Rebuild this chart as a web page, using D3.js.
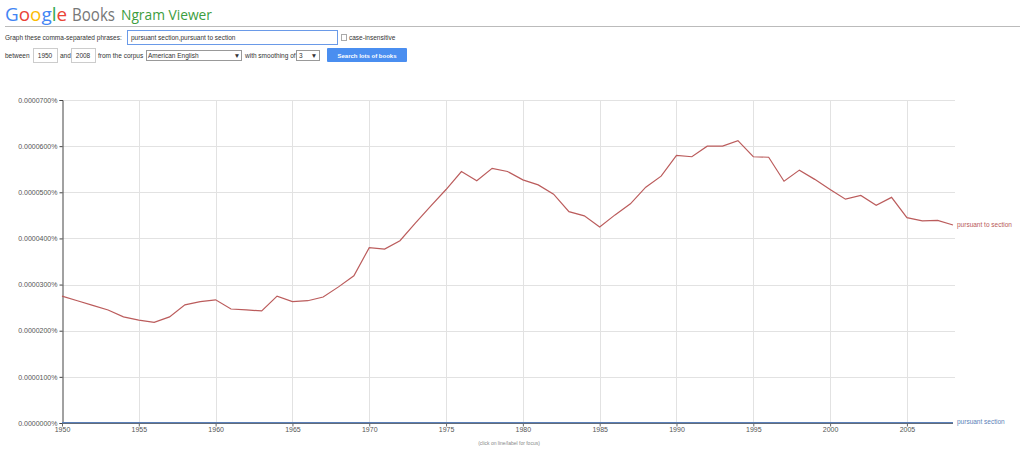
<!DOCTYPE html>
<html>
<head>
<meta charset="utf-8">
<script src="https://cdn.jsdelivr.net/npm/d3@7"></script>
<style>
  html, body { margin: 0; padding: 0; background: #fff; }
  svg { display: block; font-family: "Liberation Sans", Arial, sans-serif; }
</style>
</head>
<body>
<svg id="chart" width="1024" height="452"></svg>
<script>
// ---- data ----
const years = [1950,1951,1952,1953,1954,1955,1956,1957,1958,1959,
  1960,1961,1962,1963,1964,1965,1966,1967,1968,1969,
  1970,1971,1972,1973,1974,1975,1976,1977,1978,1979,
  1980,1981,1982,1983,1984,1985,1986,1987,1988,1989,
  1990,1991,1992,1993,1994,1995,1996,1997,1998,1999,
  2000,2001,2002,2003,2004,2005,2006,2007,2008];

// values in percent
const pursuantToSection = [
  0.0000275,0.0000265,0.0000255,0.0000245,0.0000230,0.0000223,0.0000218,0.0000230,0.0000256,0.0000263,
  0.0000267,0.0000247,0.0000245,0.0000243,0.0000275,0.0000263,0.0000265,0.0000273,0.0000295,0.0000319,
  0.0000380,0.0000377,0.0000395,0.0000433,0.0000470,0.0000506,0.0000545,0.0000525,0.0000552,0.0000545,
  0.0000527,0.0000516,0.0000496,0.0000458,0.0000449,0.0000425,0.0000451,0.0000475,0.0000511,0.0000535,
  0.0000580,0.0000577,0.0000600,0.0000600,0.0000612,0.0000577,0.0000576,0.0000524,0.0000548,0.0000528,
  0.0000506,0.0000485,0.0000493,0.0000472,0.0000489,0.0000445,0.0000438,0.0000439,0.0000429];

const pursuantSection = [
  0.0000001,0.0000001,0.0000001,0.0000001,0.0000001,0.0000001,0.0000001,0.0000001,0.0000001,0.0000001,
  0.0000001,0.0000001,0.0000001,0.0000001,0.0000001,0.0000001,0.0000001,0.0000001,0.0000001,0.0000001,
  0.0000001,0.0000001,0.0000001,0.0000001,0.0000001,0.0000001,0.0000001,0.0000001,0.0000001,0.0000001,
  0.0000001,0.0000001,0.0000001,0.0000001,0.0000001,0.0000001,0.0000001,0.0000001,0.0000001,0.0000001,
  0.0000001,0.0000001,0.0000001,0.0000001,0.0000001,0.0000001,0.0000001,0.0000001,0.0000001,0.0000001,
  0.0000001,0.0000001,0.0000001,0.0000001,0.0000001,0.0000001,0.0000001,0.0000001,0.0000001];

const seriesNames = ["pursuant to section", "pursuant section"];
const yTicks = [0, 0.00001, 0.00002, 0.00003, 0.00004, 0.00005, 0.00006, 0.00007];
const xTicks = [1950,1955,1960,1965,1970,1975,1980,1985,1990,1995,2000,2005];

// ---- drawing ----
const svg = d3.select("#chart");

// Header
const logo = svg.append("text").attr("x", 5).attr("y", 21)
  .attr("font-family", "'Open Sans', Roboto, sans-serif").attr("font-size", 19)
  .attr("textLength", 62).attr("lengthAdjust", "spacingAndGlyphs");
[["G","#4285f4"],["o","#ea4335"],["o","#fbbc05"],["g","#4285f4"],["l","#34a853"],["e","#ea4335"]]
  .forEach(([c, col]) => logo.append("tspan").attr("fill", col).text(c));
svg.append("text").attr("x", 72).attr("y", 21)
  .attr("font-family", "'Open Sans', Roboto, sans-serif").attr("font-size", 19)
  .attr("fill", "#777").attr("textLength", 43).attr("lengthAdjust", "spacingAndGlyphs").text("Books");
svg.append("text").attr("x", 121).attr("y", 20)
  .attr("font-family", "'Open Sans', Roboto, sans-serif").attr("font-size", 15)
  .attr("fill", "#3c9d40").attr("textLength", 91).attr("lengthAdjust", "spacingAndGlyphs")
  .text("Ngram Viewer");
svg.append("line").attr("x1", 5).attr("x2", 1020).attr("y1", 26.5).attr("y2", 26.5)
  .attr("stroke", "#bbb");

const formText = (x, y, t, anchor) => svg.append("text").attr("x", x).attr("y", y)
  .attr("font-size", 6.5).attr("fill", "#333").attr("text-anchor", anchor || "start").text(t);
const box = (x, y, w, h, stroke) => svg.append("rect").attr("x", x + 0.5).attr("y", y + 0.5)
  .attr("width", w).attr("height", h).attr("fill", "#fff").attr("stroke", stroke || "#bbb");

formText(5, 39.5, "Graph these comma-separated phrases:");
box(127, 30, 210, 14, "#6a9ae8");
formText(131, 39.5, "pursuant section,pursuant to section");
box(341, 34, 5, 6, "#aaa");
formText(349, 39.5, "case-insensitive");

formText(5, 58, "between");
box(33, 48, 24, 14, "#ccc");
formText(45, 58, "1950", "middle");
formText(60, 58, "and");
box(71, 48, 24, 14, "#ccc");
formText(83, 58, "2008", "middle");
formText(98, 58, "from the corpus");
box(146, 50, 95, 10, "#999");
formText(148, 58, "American English");
formText(237, 58, "▼", "middle");
formText(245, 58, "with smoothing of");
box(296, 50, 23, 10, "#999");
formText(299, 58, "3");
formText(314, 58, "▼", "middle");
svg.append("rect").attr("x", 327).attr("y", 48).attr("width", 80).attr("height", 14)
  .attr("fill", "#4a8ef0").attr("rx", 1);
svg.append("text").attr("x", 367).attr("y", 57.5).attr("text-anchor", "middle")
  .attr("font-size", 6).attr("font-weight", "bold").attr("fill", "#fff").text("Search lots of books");

// Chart
const x = d3.scaleLinear().domain([1950, 2008]).range([62, 953]);
const y = d3.scaleLinear().domain([0, 0.00007]).range([423, 100]);
const gridRight = 955;

const g = svg.append("g");
// horizontal grid
g.selectAll("line.hg").data(yTicks.slice(1)).join("line")
  .attr("x1", x(1950)).attr("x2", gridRight)
  .attr("y1", d => Math.round(y(d)) + 0.5).attr("y2", d => Math.round(y(d)) + 0.5)
  .attr("stroke", "#e2e2e2");
// vertical grid
g.selectAll("line.vg").data(xTicks.slice(1)).join("line")
  .attr("x1", d => Math.round(x(d)) + 0.5).attr("x2", d => Math.round(x(d)) + 0.5)
  .attr("y1", y(0.00007)).attr("y2", y(0))
  .attr("stroke", "#e2e2e2");

// y axis
const yAxis = d3.axisLeft(y).tickValues(yTicks).tickSize(3).tickPadding(2)
  .tickFormat(d => d3.format(".7f")(d) + "%");
const ya = svg.append("g").attr("transform", `translate(${x(1950) + 0.5},0)`).call(yAxis);
ya.select(".domain").attr("stroke", "#444");
ya.selectAll(".tick line").attr("stroke", "#444");
ya.selectAll(".tick text").attr("font-size", 7).attr("fill", "#555")
  .attr("font-family", "'Liberation Sans', Arial, sans-serif");

// x axis
const xAxis = d3.axisBottom(x).tickValues(xTicks).tickSize(3).tickPadding(1)
  .tickFormat(d3.format("d"));
const xa = svg.append("g").attr("transform", `translate(0,${y(0) + 0.5})`).call(xAxis);
xa.select(".domain").attr("stroke", "#666").attr("d", `M${x(1950)},0H${x(2008)}`);
xa.selectAll(".tick line").attr("stroke", "#666");
xa.selectAll(".tick text").attr("font-size", 7).attr("fill", "#555")
  .attr("font-family", "'Liberation Sans', Arial, sans-serif");

// lines
const line = d3.line().x((d, i) => x(years[i])).y(d => y(d));
svg.append("path").datum(pursuantSection).attr("d", line)
  .attr("fill", "none").attr("stroke", "#5a7fb8").attr("stroke-width", 1.3);
svg.append("path").datum(pursuantToSection).attr("d", line)
  .attr("fill", "none").attr("stroke", "#bb5c5c").attr("stroke-width", 1.2);

// series labels
svg.append("text").attr("x", x(2008) + 4).attr("y", y(pursuantToSection[pursuantToSection.length - 1]) + 2)
  .attr("font-size", 6.5).attr("fill", "#b85858").text(seriesNames[0]);
svg.append("text").attr("x", x(2008) + 4).attr("y", y(pursuantSection[pursuantSection.length - 1]) + 1)
  .attr("font-size", 6.5).attr("fill", "#5a7fb8").text(seriesNames[1]);

// footnote
svg.append("text").attr("x", 509).attr("y", 445).attr("text-anchor", "middle")
  .attr("font-size", 5).attr("fill", "#888").text("(click on line/label for focus)");
</script>
</body>
</html>
